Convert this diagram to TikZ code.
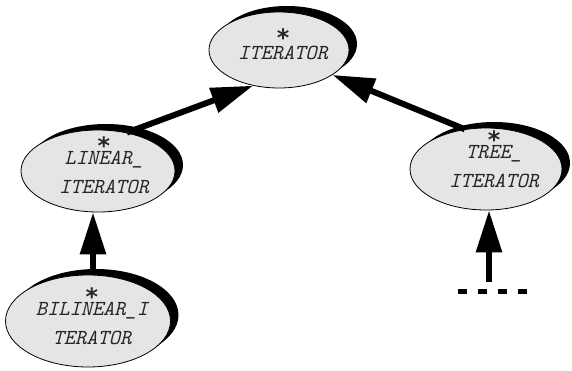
\documentclass[tikz,border=0pt]{standalone}
\usepackage{fontspec}
\setmainfont{Liberation Serif}
\newfontfamily\starfont{DejaVu Sans Bold}
\usetikzlibrary{shapes.geometric,arrows.meta,shadows}

% bold asterisk set centred above the first line of a class name
\newcommand\starabove[2][10pt]{%
  \ooalign{\hfil\raisebox{#1}{\smash{\starfont\fontsize{24}{24}\selectfont *}}\hfil\cr #2\cr}}

\tikzset{
  cls/.style={ellipse, draw=black, line width=0.8bp, fill=black!10, inner sep=0pt,
    drop shadow={shadow xshift=8bp, shadow yshift=6bp, fill=black, opacity=1}},
  lbl/.style={font=\ttfamily\itshape\fontsize{21.5}{29}\selectfont, align=center, inner sep=0pt,
    text=black!85},
  inh/.style={line width=6bp, -{Triangle[length=42bp 0 0, width=25bp 0 0]}},
  dashline/.style={line width=5bp, dash pattern=on 9bp off 11bp},
}

\begin{document}
\begin{tikzpicture}[x=1bp,y=-1bp]
  \path[use as bounding box] (0,0) rectangle (572,370);

  % class ellipses
  \node[cls, minimum width=140bp, minimum height=76bp] (it)   at (279,50)  {};
  \node[cls, minimum width=154bp, minimum height=82bp] (lin)  at (98,171)  {};
  \node[cls, minimum width=152bp, minimum height=82bp] (tree) at (486,169) {};
  \node[cls, minimum width=165bp, minimum height=92bp] (bil)  at (88,321)  {};

  % class names, each with its deferred marker
  \node[lbl] (itT)   at (283,53)  {\starabove[13pt]{ITERATOR}};
  \node[lbl] (linT)  at (104,174) {\starabove{LINEAR\_}\\ITERATOR};
  \node[lbl] (treeT) at (494,168) {\starabove{TREE\_}\\ITERATOR};
  \node[lbl] (bilT)  at (92,325)  {\starabove{BILINEAR\_I}\\TERATOR};

  % inheritance links
  \draw[inh] (lin.53) -- (it.234);
  \draw[inh] (tree.118) -- (it.335);
  \coordinate (vx) at (93,0);
  \draw[inh] (bil.north -| vx) -- (lin.south -| vx);

  % open-ended link below TREE_ITERATOR
  \coordinate (stub) at (489,282);
  \draw[inh] (stub) -- (tree.south -| stub);
  \coordinate (dl) at (458,291);
  \coordinate (dr) at (530,291);
  \draw[dashline] (dl) -- (dr);
\end{tikzpicture}
\end{document}
